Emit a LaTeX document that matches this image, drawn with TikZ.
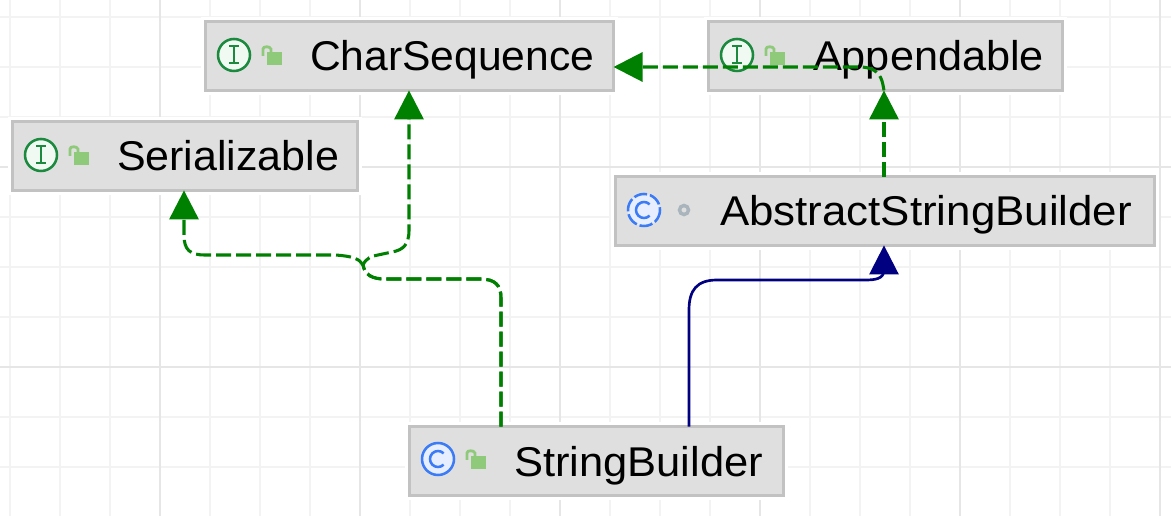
\documentclass[tikz,border=0pt]{standalone}
\usepackage{fontspec}
\usepackage{graphicx}
\setmainfont{Liberation Sans}
\usetikzlibrary{arrows.meta}
\definecolor{gridminor}{HTML}{F3F3F3}
\definecolor{gridmajor}{HTML}{E6E6E6}
\definecolor{boxfill}{HTML}{DFDFDF}
\definecolor{boxline}{HTML}{C2C2C2}
\definecolor{ifgreen}{HTML}{1B8A3F}
\definecolor{iffill}{HTML}{F0F9F2}
\definecolor{clblue}{HTML}{3B7BF6}
\definecolor{clfill}{HTML}{E6EEFF}
\definecolor{lockgreen}{HTML}{8FC97A}
\definecolor{dotgray}{HTML}{AAB4BC}
\definecolor{realgreen}{HTML}{008000}
\definecolor{extnavy}{HTML}{000080}
\newcommand{\lbl}[2]{\hspace*{78.4pt}\scalebox{#1}[1]{#2}}
\tikzset{
  x=0.75pt, y=-0.75pt,
  umlbox/.style={rectangle, draw=boxline, fill=boxfill, line width=2pt,
    preaction={draw=white, line width=6.5pt},
    inner xsep=0pt, inner ysep=0pt, outer sep=0pt, align=left,
    minimum height=51.6pt, text height=24pt, text depth=1.5pt,
    font=\fontsize{31.2}{36}\selectfont, text=black},
  implements/.style={draw=realgreen, line width=2.3pt, dash pattern=on 11.25pt off 3.75pt,
    -{Triangle[length=21.75pt, width=21.75pt]}, fill=none, realgreen},
  extends/.style={draw=extnavy, line width=2pt,
    -{Triangle[length=21.75pt, width=21.75pt]}, fill=none, extnavy},
  lockicon/.pic={
    \fill[lockgreen] (33,-3) rectangle (48,10);
    \draw[lockgreen, line width=2.1pt] (29,1) -- (29,-6) .. controls (29,-9) and (36,-9) .. (37,-6) -- (37,-3);
  },
  ifaceicon/.pic={
    \draw[ifgreen, fill=iffill, line width=1.9pt] (0,0) circle[radius=16];
    \draw[ifgreen, line width=1.9pt] (-5,-9) -- (5,-9) (0,-9) -- (0,8) (-5,8) -- (5,8);
  },
  classicon/.pic={
    \draw[clblue, fill=clfill, line width=1.9pt] (0,0) circle[radius=16];
    \draw[clblue, line width=1.9pt] (45:8) arc[start angle=45, end angle=315, radius=8];
  },
  abstracticon/.pic={
    \draw[clblue, fill=clfill, line width=1.9pt, dash pattern=on 10pt off 2.2pt] (0,0) circle[radius=16];
    \draw[clblue, line width=1.9pt] (45:8) arc[start angle=45, end angle=315, radius=8];
  },
}
\begin{document}
\begin{tikzpicture}
\useasboundingbox[fill=white] (0,0) rectangle (1171,516);
% grid
\foreach \gx in {10,60,110,210,260,310,410,460,510,610,660,710,810,860,910,1010,1060,1110}
  \draw[gridminor, line width=1.9pt] (\gx,0) -- (\gx,516);
\foreach \gy in {17,67,117,217,267,317,417,467}
  \draw[gridminor, line width=1.9pt] (0,\gy) -- (1171,\gy);
\foreach \gx in {160,360,560,760,960,1160}
  \draw[gridmajor, line width=1.9pt] (\gx,0) -- (\gx,516);
\foreach \gy in {167,367}
  \draw[gridmajor, line width=1.9pt] (0,\gy) -- (1171,\gy);
% classes
\node[umlbox, text width=306pt] (cs) at (409.5,56) {\lbl{1.025}{CharSequence}};
\node[umlbox, text width=265.5pt] (ap) at (885.5,56) {\lbl{1.04}{Appendable}};
\node[umlbox, text width=258.75pt] (se) at (185,156) {\lbl{1.033}{Serializable}};
\node[umlbox, text width=404.25pt] (as) at (885,211) {\lbl{1.054}{AbstractStringBuilder}};
\node[umlbox, text width=280.5pt] (sb) at (596.5,461) {\lbl{1.046}{StringBuilder}};
% icons
\pic at (234,55) {ifaceicon};
\pic at (234,55) {lockicon};
\pic at (737,55) {ifaceicon};
\pic at (737,55) {lockicon};
\pic at (41,155) {ifaceicon};
\pic at (41,155) {lockicon};
\pic at (438,459) {classicon};
\pic at (438,459) {lockicon};
\pic at (644,210) {abstracticon};
\draw[dotgray, line width=2.6pt] (684,210) circle[radius=4.5];
% connectors
\draw[implements] (501,0 |- sb.north) -- (501,298) .. controls (501,285) and (495,279) .. (480,279)
  -- (385,279) .. controls (372,279) and (365,275) .. (363,265)
  .. controls (360,259) and (352,256) .. (335,255) -- (205,255)
  .. controls (190,255) and (184,250) .. (184,235) -- (184,0 |- se.south);
\draw[implements] (501,0 |- sb.north) -- (501,298) .. controls (501,285) and (495,279) .. (480,279)
  -- (385,279) .. controls (372,279) and (365,275) .. (363,265)
  .. controls (366,258) and (372,256) .. (378,255) -- (392,252)
  .. controls (403,250) and (409,245) .. (409,230) -- (409,0 |- cs.south);
\draw[implements] (884,0 |- as.north) -- (884,0 |- ap.south);
\draw[implements] (884,0 |- ap.south) -- (883,85) .. controls (881,74) and (875,68) .. (862,67)
  -- (cs.east |- 0,67);
\draw[extends] (689,0 |- sb.north) -- (689,310) .. controls (689,290) and (697,280) .. (717,280)
  -- (865,280) .. controls (875,280) and (884,279) .. (884,270) -- (884,0 |- as.south);
\end{tikzpicture}
\end{document}
